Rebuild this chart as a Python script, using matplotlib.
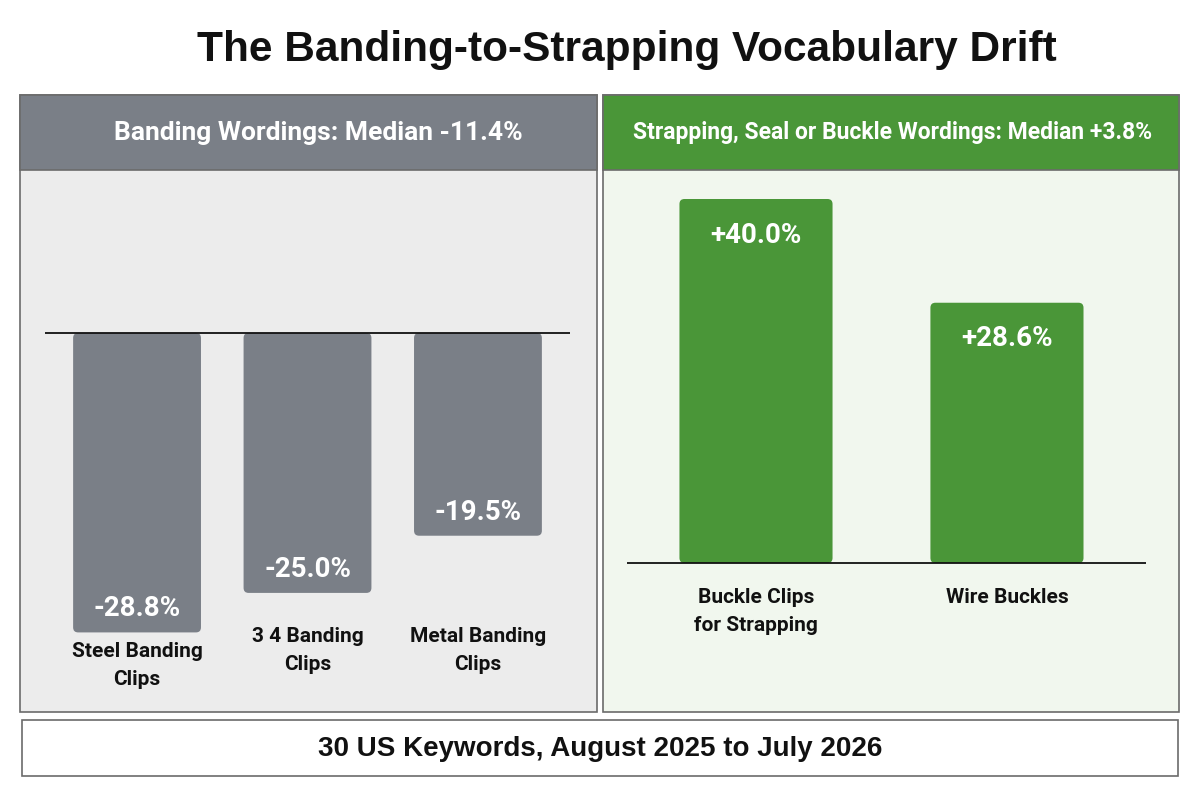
import matplotlib
matplotlib.use("Agg")
import matplotlib.pyplot as plt
from matplotlib.patches import Rectangle, FancyBboxPatch

# data
title = "The Banding-to-Strapping Vocabulary Drift"
footer = "30 US Keywords, August 2025 to July 2026"
left_header = "Banding Wordings: Median -11.4%"
right_header = "Strapping, Seal or Buckle Wordings: Median +3.8%"
left_labels = ["Steel Banding\nClips", "3 4 Banding\nClips", "Metal Banding\nClips"]
left_values = [-28.8, -25.0, -19.5]
right_labels = ["Buckle Clips\nfor Strapping", "Wire Buckles"]
right_values = [40.0, 28.6]

GRAY = "#7a7f87"
GREEN = "#4a9638"
LEFT_BG = "#ececec"
RIGHT_BG = "#f1f7ee"
EDGE = "#6b6b6b"
NARROW = ["Roboto", "DejaVu Sans"]
WIDE = ["Liberation Sans", "DejaVu Sans"]

W, H = 1200, 800
fig = plt.figure(figsize=(12, 8), dpi=100)
fig.patch.set_facecolor("white")


def box(x0, y0, x1, y1, **kw):
    # pixel box (top-left origin) -> figure coords, kept behind the axes
    r = Rectangle((x0 / W, 1 - y1 / H), (x1 - x0) / W, (y1 - y0) / H,
                  transform=fig.transFigure, zorder=-5, **kw)
    fig.patches.append(r)
    return r


def ftext(x, y, s, **kw):
    fig.text(x / W, 1 - y / H, s, ha="center", va="center", **kw)


ftext(627, 50, title, fontsize=30.5, fontweight="bold", family=WIDE, color="#111111")

# panels
box(20, 95, 597, 712, facecolor=LEFT_BG, edgecolor=EDGE, linewidth=1.2)
box(20, 95, 597, 170, facecolor=GRAY, edgecolor=EDGE, linewidth=1.2)
box(603, 95, 1179, 712, facecolor=RIGHT_BG, edgecolor=EDGE, linewidth=1.2)
box(603, 95, 1179, 170, facecolor=GREEN, edgecolor=EDGE, linewidth=1.2)
box(22, 720, 1178, 776, facecolor="white", edgecolor=EDGE, linewidth=1.2)

ftext(318, 133, left_header, fontsize=19, fontweight="bold", family=NARROW, color="white")
ftext(893, 133, right_header, fontsize=16.5, fontweight="bold", family=NARROW, color="white")
ftext(600, 749, footer, fontsize=20, fontweight="bold", family=WIDE, color="#111111")


def make_ax(x0, x1, y0, y1):
    ax = fig.add_axes([x0 / W, 1 - y1 / H, (x1 - x0) / W, (y1 - y0) / H])
    ax.patch.set_alpha(0)
    for s in ax.spines.values():
        s.set_visible(False)
    ax.set_xticks([])
    ax.set_yticks([])
    return ax


def round_bars(ax, bars, color, r_px=5):
    fig.canvas.draw()
    bb = ax.get_window_extent()
    xl, yl = ax.get_xlim(), ax.get_ylim()
    px_x = bb.width / (xl[1] - xl[0])
    px_y = bb.height / (yl[1] - yl[0])
    for b in bars:
        b.set_visible(False)
        y, h = b.get_y(), b.get_height()
        if h < 0:
            y, h = y + h, -h
        p = FancyBboxPatch((b.get_x(), y), b.get_width(), h,
                           boxstyle="round,pad=0,rounding_size=%f" % (r_px / px_x),
                           mutation_aspect=px_x / px_y,
                           facecolor=color, edgecolor="none", zorder=2)
        ax.add_patch(p)


# left chart
axl = make_ax(45, 570, 190, 700)
xs = range(len(left_values))
bl = axl.bar(xs, left_values, width=0.75, color=GRAY)
axl.set_xlim(-0.54, 2.54)
axl.set_ylim(-35.3, 13.75)
axl.axhline(0, color="#111111", linewidth=1.3, zorder=3)
round_bars(axl, bl, GRAY)
for i, v in enumerate(left_values):
    axl.annotate("%.1f%%" % v, (i, v), xytext=(0, 17), textcoords="offset points",
                 ha="center", va="center", fontsize=20, fontweight="bold",
                 family=NARROW, color="white", zorder=4)
    axl.annotate(left_labels[i], (i, min(v, -27.3)), xytext=(0, -7),
                 textcoords="offset points", ha="center", va="top",
                 fontsize=15, fontweight="bold", family=NARROW, color="#111111",
                 linespacing=1.6)

# right chart
axr = make_ax(627, 1146, 190, 700)
xs = range(len(right_values))
br = axr.bar(xs, right_values, width=0.61, color=GREEN)
axr.set_xlim(-0.514, 1.554)
axr.set_ylim(-(700 - 563) / 9.1, (563 - 190) / 9.1)
axr.axhline(0, color="#111111", linewidth=1.3, zorder=3)
round_bars(axr, br, GREEN)
for i, v in enumerate(right_values):
    axr.annotate("+%.1f%%" % v, (i, v), xytext=(0, -26), textcoords="offset points",
                 ha="center", va="center", fontsize=20, fontweight="bold",
                 family=NARROW, color="white", zorder=4)
    axr.annotate(right_labels[i], (i, 0), xytext=(0, -18),
                 textcoords="offset points", ha="center", va="top",
                 fontsize=15, fontweight="bold", family=NARROW, color="#111111",
                 linespacing=1.6)

fig.savefig("out.png", dpi=100)
